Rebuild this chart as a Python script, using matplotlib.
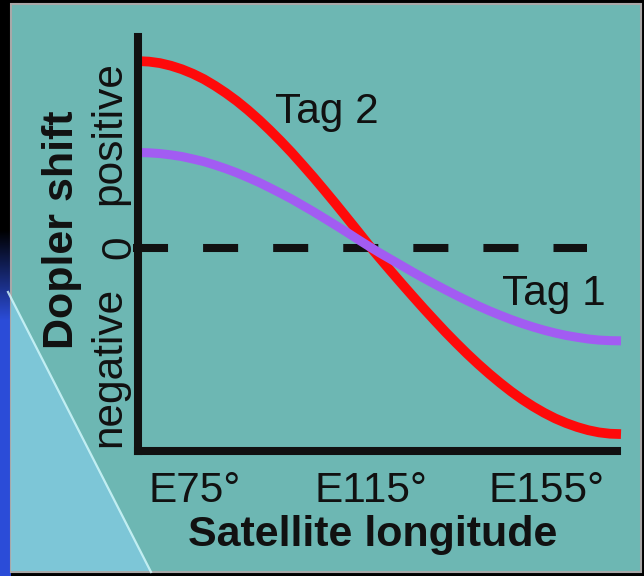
import numpy as np
import matplotlib
matplotlib.use('Agg')
import matplotlib.pyplot as plt
from matplotlib.patches import Rectangle, Polygon

plt.rcParams['font.family'] = ['Liberation Sans', 'DejaVu Sans']

# satellite longitude (deg E) and normalised doppler shift
longitude = [62, 64.5, 67, 69.5, 72, 74.5, 77, 79.5, 82, 84.5, 87, 89.5,
             92, 94.5, 97, 99.5, 102, 104.5, 107, 109.5, 112, 114.5,
             117, 119.5, 122, 124.5, 127, 129.5, 132, 134.5, 137, 139.5,
             142, 144.5, 147, 149.5, 152, 154.5, 157, 159.5, 162, 164.5,
             167, 169.5, 172]
tag2_shift = [1.000, 0.997, 0.989, 0.975, 0.956, 0.932, 0.903, 0.868, 0.829, 0.786,
              0.738, 0.686, 0.630, 0.571, 0.509, 0.443, 0.376, 0.306, 0.235, 0.162,
              0.089, 0.015,
              -0.055, -0.124, -0.192, -0.259, -0.325, -0.389, -0.452, -0.512, -0.570,
              -0.625, -0.677, -0.726, -0.772, -0.814, -0.852, -0.886, -0.916, -0.941,
              -0.962, -0.979, -0.991, -0.998, -1.000]
tag1_shift = [0.510, 0.508, 0.504, 0.497, 0.488, 0.475, 0.461, 0.443, 0.423, 0.401,
              0.376, 0.350, 0.321, 0.291, 0.260, 0.226, 0.192, 0.156, 0.120, 0.083,
              0.045, 0.008,
              -0.028, -0.062, -0.096, -0.130, -0.163, -0.195, -0.226, -0.256, -0.285,
              -0.313, -0.339, -0.363, -0.386, -0.407, -0.426, -0.443, -0.458, -0.471,
              -0.481, -0.490, -0.496, -0.499, -0.500]
tick_lon = [75, 115, 155]
tick_labels = ['E75°', 'E115°', 'E155°']
y_labels = ['positive', '0', 'negative']
y_label_pos = [0.614, 0.0, -0.641]

TEAL = '#6db7b3'
RED = '#fe0a0a'
PURPLE = '#a25cf2'
INK = '#111111'

fig = plt.figure(figsize=(6.44, 5.76), dpi=100, facecolor='black')

# background: dark frame, bit of the earth on the left, teal panel
bg = fig.add_axes([0, 0, 1, 1])
strip = np.zeros((576, 1, 3))
t = np.clip((np.arange(576) - 230) / 90.0, 0, 1)[:, None]
strip[:, :, 0] = 0.17 * t
strip[:, :, 1] = 0.30 * t
strip[:, :, 2] = 0.85 * t
bg.imshow(strip, extent=(0, 11, 576, 0), aspect='auto')
bg.add_patch(Rectangle((11, 4), 630, 568, facecolor=TEAL, edgecolor='#a8a8a8', lw=1.5))
bg.add_patch(Polygon([(11, 298), (150, 571), (11, 571)], closed=True,
                     facecolor='#80c9de', edgecolor='none', alpha=0.85))
bg.plot([8, 151], [292, 572], color='#d6fbff', lw=1.6, alpha=0.8)
bg.set_xlim(0, 644)
bg.set_ylim(576, 0)
bg.axis('off')

ax = fig.add_axes([138 / 644, (576 - 450.5) / 576, 483 / 644, 413.5 / 576])
ax.set_facecolor('none')
ax.set_xlim(62, 172)
ax.set_ylim(-1.088, 1.129)

# zero line
ax.plot([60.86, 164.3], [0, 0], color=INK, lw=5.8, dashes=(4.35, 4.35),
        clip_on=False, zorder=2)
ax.plot(longitude, tag2_shift, color=RED, lw=7, solid_capstyle='butt',
        solid_joinstyle='round', clip_on=False, zorder=3)
ax.plot(longitude, tag1_shift, color=PURPLE, lw=6.5, solid_capstyle='butt',
        solid_joinstyle='round', clip_on=False, zorder=4)

for s in ['top', 'right']:
    ax.spines[s].set_visible(False)
for s in ['left', 'bottom']:
    ax.spines[s].set_linewidth(5.8)
    ax.spines[s].set_color(INK)
    ax.spines[s].set_zorder(5)
ax.spines['bottom'].set_bounds(62, 171.1)

ax.set_xticks(tick_lon)
ax.set_xticklabels(tick_labels, fontsize=30.5, color=INK)
ax.set_yticks([])
ax.tick_params(axis='x', length=0, pad=14.5)

ytr = ax.get_yaxis_transform()
ax.text(-0.060, y_label_pos[0], y_labels[0], transform=ytr, rotation=90,
        ha='center', va='center', fontsize=30.5, color=INK)
ax.text(-0.039, y_label_pos[1], y_labels[1], transform=ytr, rotation=90,
        ha='center', va='center', fontsize=30.5, color=INK)
ax.text(-0.060, y_label_pos[2], y_labels[2], transform=ytr, rotation=90,
        ha='center', va='center', fontsize=30.5, color=INK)

ax.text(-0.157, 0.533, 'Dopler shift', transform=ax.transAxes, rotation=90,
        ha='center', va='center', fontsize=31, fontweight='bold', color=INK)
ax.set_xlabel('Satellite longitude', fontsize=31, fontweight='bold', color=INK,
              labelpad=3)
ax.xaxis.label.set_x(0.4865)

ax.text(93.2, 0.668, 'Tag 2', ha='left', va='baseline', fontsize=30.5, color=INK)
ax.text(144.9, -0.308, 'Tag 1', ha='left', va='baseline', fontsize=30.5, color=INK)

fig.savefig('out.png', dpi=100, facecolor=fig.get_facecolor())
